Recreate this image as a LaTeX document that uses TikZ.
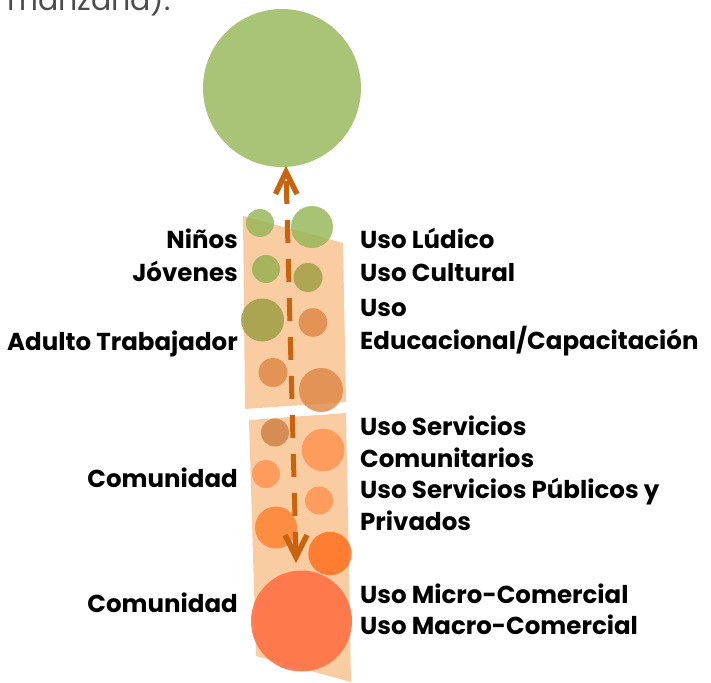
\documentclass[tikz,border=0pt]{standalone}
\usepackage{fontspec}
\setmainfont{Poppins}
\definecolor{peach}{RGB}{250,204,162}
\definecolor{bigg}{RGB}{169,196,118}
\definecolor{arr}{RGB}{200,100,15}
\definecolor{cgreen}{RGB}{150,182,86}
\definecolor{cgreenb}{RGB}{148,176,78}
\definecolor{colive}{RGB}{158,158,66}
\definecolor{ctan}{RGB}{222,135,70}
\definecolor{ctanb}{RGB}{205,128,66}
\definecolor{corl}{RGB}{255,146,78}
\definecolor{cordk}{RGB}{255,130,50}
\definecolor{corred}{RGB}{255,112,30}
\definecolor{coral}{RGB}{255,112,66}
\begin{document}
\begin{tikzpicture}[x=1pt,y=-1pt,
  lbl/.style={font=\bfseries\fontsize{24.5}{28}\selectfont, text=black, inner sep=0pt},
  lleft/.style={lbl, anchor=base east},
  lright/.style={lbl, anchor=base west},
  band/.style={fill=peach, draw=none},
  dashline/.style={draw=arr, line width=5pt, dash pattern=on 23pt off 16pt, dash phase=30pt},
  barb/.style={draw=arr, line width=5.5pt, line cap=butt, line join=miter}]
\useasboundingbox (0,0) rectangle (711,682);
% top cut-off text
\node[anchor=base west, inner sep=0pt, text=black!70, font=\fontsize{30}{34}\selectfont] (top) at (7,10.5) {manzana).};
% big green circle
\fill[bigg] (282,88) circle (79);
% bands
\path[band] (243,216) -- (343,243) -- (346,402) -- (245,409) -- cycle;
\path[band] (249,420) -- (346,413) -- (351,682) -- (256,656) -- cycle;
% circles
\fill[cgreen, fill opacity=0.82] (260,223) circle (14);
\fill[cgreen, fill opacity=0.82] (312,227) circle (21);
\fill[cgreenb, fill opacity=0.82] (266,269) circle (14);
\fill[colive, fill opacity=0.82] (308,277.5) circle (14.5);
\fill[colive, fill opacity=0.85] (262.5,320) circle (21.5);
\fill[ctan, fill opacity=0.82] (313,322.5) circle (14.3);
\fill[ctan, fill opacity=0.82] (273,372.5) circle (14.5);
\fill[ctan, fill opacity=0.82] (321,390) circle (22);
\fill[ctanb, fill opacity=0.82] (275,432.5) circle (14);
\fill[corl, fill opacity=0.82] (323,450) circle (21.3);
\fill[corl, fill opacity=0.82] (266,474) circle (14);
\fill[corl, fill opacity=0.82] (319,500.5) circle (14);
\fill[cordk, fill opacity=0.85] (276,527.5) circle (21);
\fill[corred, fill opacity=0.85] (330,553.5) circle (21.7);
\fill[coral, fill opacity=0.9] (301.5,621) circle (50.5);
% dashed double arrow
\coordinate (up) at (286,172);
\coordinate (down) at (296,557);
\draw[dashline] (up) -- (down);
\draw[barb] (275.5,194) -- (up) -- (297,194);
\draw[barb] (285,535) -- (down) -- (307,535);
% left labels
\node[lleft] (n1) at (238,248) {Niños};
\node[lleft] (n2) at (238,281) {Jóvenes};
\node[lleft] (n3) at (238,350) {Adulto Trabajador};
\node[lleft] (n4) at (238,487) {Comunidad};
\node[lleft] (n5) at (238,612) {Comunidad};
% right labels
\node[lright] (r1) at (360,248) {Uso Lúdico};
\node[lright] (r2) at (360,281) {Uso Cultural};
\node[lright] (r3) at (360,316) {Uso};
\node[lright] (r4) at (360,349) {Educacional/Capacitación};
\node[lright] (r5) at (360,435) {Uso Servicios};
\node[lright] (r6) at (360,467) {Comunitarios};
\node[lright] (r7) at (360,498) {Uso Servicios Públicos y};
\node[lright] (r8) at (360,530) {Privados};
\node[lright] (r9) at (360,603) {Uso Micro-Comercial};
\node[lright] (r10) at (360,634) {Uso Macro-Comercial};
\end{tikzpicture}
\end{document}
